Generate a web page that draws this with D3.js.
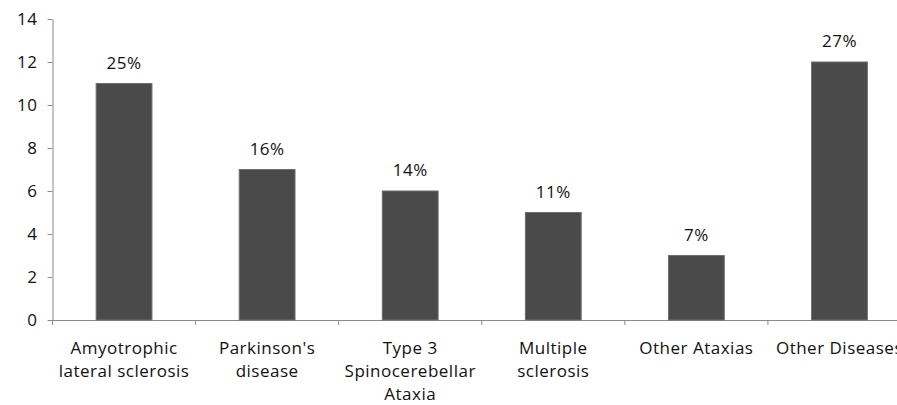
<!DOCTYPE html>
<html>
<head>
<meta charset="utf-8">
<script src="https://cdn.jsdelivr.net/npm/d3@7"></script>
<style>
  html, body { margin: 0; padding: 0; background: #fff; overflow: hidden; }
  svg { display: block; }
  text { font-family: "Open Sans", sans-serif; fill: #111; letter-spacing: 0.5px; }
</style>
</head>
<body>
<script>
const categories = [
  ["Amyotrophic", "lateral sclerosis"],
  ["Parkinson's", "disease"],
  ["Type 3", "Spinocerebellar", "Ataxia"],
  ["Multiple", "sclerosis"],
  ["Other Ataxias"],
  ["Other Diseases"]
];
const values = [11, 7, 6, 5, 3, 12];
const percentLabels = ["25%", "16%", "14%", "11%", "7%", "27%"];
const yTicks = [0, 2, 4, 6, 8, 10, 12, 14];

const W = 897, H = 405;
const mLeft = 52.5, mRight = 911, mTop = 19, mBottom = 320;
const fs = 17;

const svg = d3.select("body").append("svg").attr("width", W).attr("height", H);

const keys = categories.map(c => c.join(" "));
const x = d3.scaleBand().domain(keys).range([mLeft, mRight]).paddingInner(0.61).paddingOuter(0.305);
const y = d3.scaleLinear().domain([0, 14]).range([mBottom, mTop]);

const axisColor = "#8a8a8a";

// y axis
const yAxis = svg.append("g").attr("transform", `translate(${mLeft},0)`)
  .call(d3.axisLeft(y).tickValues(yTicks).tickSize(5).tickPadding(10).tickSizeOuter(0));
yAxis.select(".domain").attr("stroke", axisColor);
yAxis.selectAll(".tick line").attr("stroke", axisColor);
yAxis.selectAll(".tick text").attr("font-size", fs).attr("font-family", "Open Sans, sans-serif").attr("fill", "#111");

// x axis line
svg.append("line").attr("x1", mLeft).attr("x2", mRight).attr("y1", mBottom + 0.5).attr("y2", mBottom + 0.5)
  .attr("stroke", axisColor);
// category boundary ticks
const step = x.step();
const boundaries = d3.range(categories.length + 1).map(i => mLeft + i * step);
svg.selectAll(".xtick").data(boundaries).enter().append("line")
  .attr("x1", d => d).attr("x2", d => d).attr("y1", mBottom).attr("y2", mBottom + 5)
  .attr("stroke", axisColor);

// bars
svg.selectAll(".bar").data(values).enter().append("rect")
  .attr("x", (d, i) => x(keys[i]))
  .attr("width", x.bandwidth())
  .attr("y", d => y(d))
  .attr("height", d => y(0) - y(d))
  .attr("fill", "#4a4a4a")
  .attr("stroke", "#6e6e6e")
  .attr("stroke-width", 1);

// value labels
svg.selectAll(".vlab").data(values).enter().append("text")
  .attr("x", (d, i) => x(keys[i]) + x.bandwidth() / 2)
  .attr("y", d => y(d) - 15)
  .attr("text-anchor", "middle")
  .attr("font-size", fs)
  .text((d, i) => percentLabels[i]);

// category labels
categories.forEach((lines, i) => {
  const cx = x(keys[i]) + x.bandwidth() / 2;
  const t = svg.append("text").attr("text-anchor", "middle").attr("font-size", fs);
  lines.forEach((ln, j) => {
    t.append("tspan").attr("x", cx).attr("y", 354 + j * 23).text(ln);
  });
});
</script>
</body>
</html>
